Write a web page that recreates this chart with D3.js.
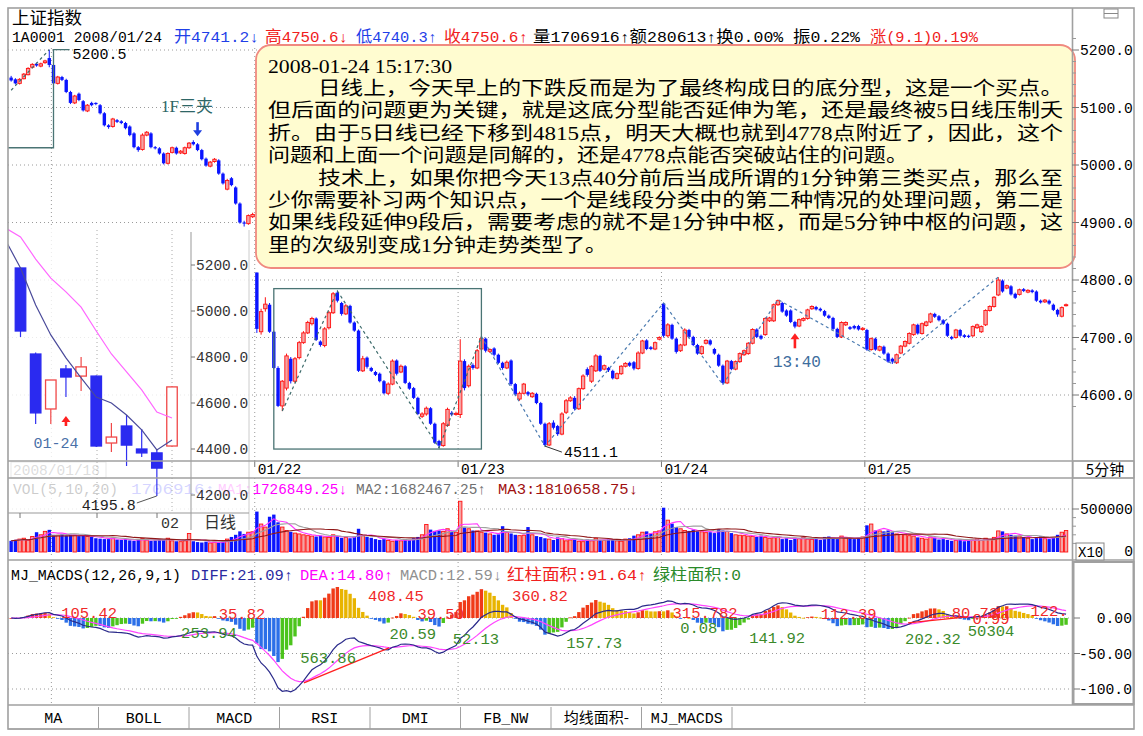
<!DOCTYPE html>
<html><head><meta charset="utf-8">
<script src="https://cdn.jsdelivr.net/npm/d3@7/dist/d3.min.js"></script>
<style>
html,body{margin:0;padding:0;background:#fff;}
svg{display:block;}
</style></head><body>
<svg id="chart" width="1143" height="736"></svg>
<script>
// ---------------- DATA ----------------
const dayLabels = ["01/18","01/21","01/22","01/23","01/24","01/25"];
const dayStart  = [0,10,58,106,154,202];
const priceTicks = [5200,5100,5000,4900,4800,4700,4600];

const open = [
5152,5149,5142,5150,5157,5170,5176,5172,5178,5186,
5174,5142,5153,5148,5127,5108,5124,5111,5094,5108,5108,5104,5090,5069,5067,5078,5076,5073,5067,5055,
5031,5027,5052,5055,5031,5029,5020,5003,5022,5030,5021,5020,5030,5040,5036,5026,5011,4998,5006,5008,
4985,4958,4977,4961,4933,4900,4898,4910,
4813,4710,4750,4757,4710,4647,4581,4612,4663,4624,4665,4691,4708,4724,4733,4693,4686,4717,4743,4778,
4760,4741,4755,4726,4712,4642,4665,4647,4640,4637,4624,4603,4619,4660,4640,4650,4621,4612,4595,4563,
4567,4577,4550,4520,4512,4547,4569,4566,
4566,4659,4616,4652,4647,4680,4698,4676,4681,4670,4656,4647,4660,4619,4593,4603,4605,4597,4602,4586,
4550,4513,4552,4546,4532,4570,4590,4595,4576,4611,4645,4624,4642,4668,4645,4647,4642,4629,4637,4650,
4656,4657,4646,4673,4695,4683,4680,4697,
4759,4703,4722,4698,4677,4687,4713,4701,4687,4672,4690,4695,4680,4670,4651,4621,4659,4645,4658,4670,
4672,4690,4714,4703,4705,4729,4729,4757,4760,4747,4747,4727,4720,4730,4733,4750,4753,4750,4746,4738,
4734,4715,4701,4722,4718,4720,4720,4714,
4713,4679,4698,4678,4684,4672,4663,4656,4673,4685,4690,4705,4722,4707,4721,4727,4741,4737,4730,4724,
4701,4700,4713,4704,4703,4703,4717,4710,4722,4747,4754,4774,4799,4786,4789,4776,4775,4784,4779,4782,
4780,4764,4762,4764,4757,4748,4737,4756];

const close = [
5147,5142,5149,5158,5168,5175,5173,5176,5181,5174,
5142,5153,5148,5127,5108,5120,5113,5095,5104,5104,5106,5090,5069,5066,5080,5075,5073,5064,5052,5031,
5026,5052,5057,5031,5029,5020,5003,5020,5030,5020,5024,5030,5038,5036,5026,5010,4999,5005,5010,4985,
4968,4973,4965,4933,4900,4898,4912,4914,
4715,4745,4758,4710,4647,4581,4624,4668,4624,4663,4691,4708,4726,4733,4696,4687,4715,4743,4776,4764,
4741,4755,4726,4712,4642,4663,4649,4642,4635,4624,4603,4619,4659,4637,4650,4621,4611,4595,4567,4567,
4577,4550,4517,4512,4550,4575,4566,4568,
4659,4612,4650,4647,4677,4698,4677,4679,4670,4656,4647,4657,4619,4601,4603,4619,4601,4603,4586,4550,
4513,4550,4543,4532,4567,4590,4595,4576,4611,4633,4635,4650,4668,4642,4651,4643,4629,4637,4650,4655,
4651,4646,4673,4694,4680,4680,4691,4700,
4703,4722,4698,4675,4687,4713,4701,4687,4672,4684,4695,4688,4672,4651,4621,4659,4645,4658,4672,4677,
4690,4714,4701,4698,4733,4734,4757,4764,4745,4738,4727,4719,4731,4733,4748,4754,4749,4747,4738,4734,
4715,4701,4726,4726,4715,4716,4714,4716,
4679,4698,4679,4684,4672,4658,4658,4670,4685,4693,4707,4722,4707,4724,4727,4741,4736,4730,4724,4703,
4698,4713,4703,4701,4701,4719,4722,4719,4747,4754,4770,4800,4780,4790,4775,4769,4783,4781,4782,4779,
4764,4761,4765,4759,4748,4740,4752,4757];

const high = [
5155,5151,5151,5160,5170,5177,5178,5178,5183,5200.5,
5176,5155,5155,5150,5129,5122,5126,5113,5106,5110,5109,5106,5092,5071,5082,5080,5078,5075,5069,5057,
5033,5055,5059,5057,5033,5031,5022,5022,5032,5032,5026,5032,5040,5043,5038,5028,5013,5007,5012,5010,
4987,4976,4979,4963,4935,4903,4914,4917,
4813,4750,4770,4760,4712,4650,4626,4672,4666,4666,4694,4711,4729,4736,4735,4695,4718,4746,4779,4781,
4762,4758,4757,4728,4714,4668,4667,4649,4642,4639,4626,4622,4662,4662,4653,4652,4623,4614,4597,4570,
4580,4579,4552,4522,4553,4578,4572,4571,
4697,4662,4653,4655,4680,4702,4700,4681,4683,4672,4658,4660,4662,4621,4606,4621,4607,4605,4604,4588,
4552,4553,4556,4548,4570,4593,4598,4598,4613,4636,4648,4652,4671,4670,4653,4649,4644,4639,4652,4657,
4658,4659,4676,4696,4697,4685,4693,4702,
4760,4725,4724,4700,4689,4716,4715,4703,4689,4686,4697,4697,4682,4672,4653,4661,4661,4660,4674,4679,
4692,4716,4716,4705,4735,4736,4759,4766,4762,4749,4749,4729,4733,4735,4750,4756,4755,4752,4748,4740,
4736,4717,4728,4728,4720,4722,4722,4718,
4715,4700,4700,4686,4686,4674,4665,4672,4687,4695,4709,4724,4724,4726,4729,4743,4743,4739,4732,4726,
4703,4715,4715,4706,4705,4721,4724,4721,4749,4756,4772,4805,4801,4792,4791,4778,4785,4786,4784,4784,
4782,4766,4767,4766,4759,4750,4754,4759];

const low = [
5145,5140,5140,5149,5156,5168,5171,5170,5176,5170,
5140,5140,5146,5125,5106,5106,5111,5093,5092,5102,5104,5088,5067,5063,5065,5073,5071,5062,5050,5029,
5023,5025,5050,5029,5027,5018,5001,5001,5020,5018,5019,5018,5028,5034,5024,5008,4997,4996,5004,4983,
4966,4956,4963,4931,4898,4893,4896,4908,
4708,4705,4745,4708,4645,4579,4572,4608,4620,4621,4662,4689,4706,4721,4694,4684,4683,4714,4741,4761,
4738,4739,4724,4710,4640,4640,4646,4640,4633,4622,4601,4600,4617,4634,4638,4619,4609,4593,4565,4560,
4564,4548,4515,4508,4510,4545,4563,4564,
4560,4608,4613,4644,4645,4677,4674,4673,4667,4654,4644,4645,4616,4598,4590,4601,4598,4595,4584,4548,
4511.1,4511,4540,4529,4530,4567,4588,4573,4574,4609,4632,4621,4640,4640,4643,4640,4627,4627,4635,4648,
4649,4643,4644,4671,4678,4678,4678,4695,
4700,4700,4696,4672,4675,4685,4699,4685,4670,4670,4688,4686,4670,4649,4618,4619,4643,4643,4656,4668,
4670,4688,4699,4696,4703,4727,4727,4755,4743,4736,4725,4716,4718,4728,4731,4748,4747,4745,4736,4732,
4713,4699,4699,4720,4713,4714,4712,4712,
4677,4677,4677,4676,4670,4656,4654,4654,4671,4683,4688,4703,4705,4705,4719,4725,4734,4728,4722,4701,
4696,4698,4701,4699,4699,4701,4715,4708,4720,4745,4752,4772,4778,4784,4773,4767,4773,4779,4777,4777,
4762,4759,4760,4757,4746,4736,4735,4754];

// volume in thousands
const volK = [
130,140,150,160,135,180,230,200,240,265,
200,195,205,190,200,195,185,190,180,175,160,155,150,150,160,145,140,150,135,130,
145,155,140,130,135,150,145,160,130,125,120,130,215,125,115,110,120,105,115,110,
120,150,175,200,240,210,230,235,
470,325,290,410,435,345,290,250,235,220,210,200,190,185,180,190,175,170,200,185,
165,170,160,180,270,190,175,165,150,140,150,135,125,140,130,150,140,160,175,200,
320,260,245,250,240,270,235,230,
590,285,270,250,245,230,225,210,200,205,300,230,215,200,190,195,290,200,185,175,
160,150,140,170,155,130,140,150,125,120,145,130,160,140,135,150,140,130,125,150,
160,190,200,230,240,215,235,245,
515,370,330,290,270,250,245,260,240,235,225,230,220,265,250,240,220,200,195,190,
185,180,175,190,170,160,165,175,150,160,140,165,155,170,150,145,160,140,175,180,
165,150,185,170,160,150,165,175,
310,325,250,245,240,250,230,210,205,200,190,185,170,160,150,175,165,145,150,140,
130,135,145,125,130,140,150,135,160,145,170,245,240,210,200,190,185,175,160,150,
165,180,155,150,170,200,230,250];

// daily inset (01/21 .. 02/04)
const dOpen  = [5187,4813,4574,4748,4717,4717,4426,4500,4400,4383,4413];
const dClose = [4913,4557,4700,4713,4757,4413,4452,4417,4383,4317,4670];
const dHigh  = [5190,4820,4700,4765,4800,4720,4513,4548,4487,4400,4672];
const dLow   = [4887,4509,4509,4626,4652,4409,4387,4326,4365,4195.8,4411];
const dMa5   = [5309,5187,5026,4896,4796,4709,4626,4600,4548,4483,4396,4439];   // first = previous day
const dMa10  = [5361,5322,5226,5143,5083,5017,4913,4813,4735,4657,4561,4535];
const dTicks = [5200,4800,5000,4600,4400,4200];

// zigzag segments (bar index, price)
const zigA = [[0,5130],[9,5200.5]];
const zigB = [[64,4572],[77,4781],[101,4508],[111,4702]];
const zigC = [[111,4702],[126,4511.1],[154,4760],[168,4618],[181,4766],[208,4654],[233,4805]];

// MACD area labels: text, bar position, value position, colour
const macdLabels = [
 ["105.42",18.4,8.5,"r"],["253.94",46.7,-20,"g"],["35.82",54.5,7,"r"],["563.86",74.8,-55,"g"],
 ["408.45",90.8,32,"r"],["20.59",94.8,-21,"g"],["39.50",101.4,7,"r"],["52.13",109.7,-28,"g"],
 ["360.82",124.8,32,"r"],["157.73",137.6,-34,"g"],["315.782",163.8,8.5,"r"],["0.08",162.3,-13,"g"],
 ["141.92",180.8,-27,"g"],["112.39",197.7,7,"r"],["202.32",217.6,-28,"g"],["80.73",227.5,8.5,"r"],
 ["0.99",231.3,0,"r"],["50304",231.3,-17,"g"],["122.",245,11,"r"]];
const macdRedLines = [[[69.1,-91.5],[89.2,-42]],[[211.7,-7],[225.6,1.5]]];

const noteTitle = "2008-01-24 15:17:30";
const noteLines = [
 "日线上，今天早上的下跌反而是为了最终构成日的底分型，这是一个买点。",
 "但后面的问题更为关键，就是这底分型能否延伸为笔，还是最终被5日线压制夭",
 "折。由于5日线已经下移到4815点，明天大概也就到4778点附近了，因此，这个",
 "问题和上面一个问题是同解的，还是4778点能否突破站住的问题。",
 "技术上，如果你把今天13点40分前后当成所谓的1分钟第三类买点，那么至",
 "少你需要补习两个知识点，一个是线段分类中的第二种情况的处理问题，第二是",
 "如果线段延伸9段后，需要考虑的就不是1分钟中枢，而是5分钟中枢的问题，这",
 "里的次级别变成1分钟走势类型了。"];
const noteSpan = [[318,1063],[268,1063],[268,1063],[268,908],[318,1063],[268,1063],[268,1063],[268,607]];

const headerSegs = [["1A0001 2008/01/24",12,162,"#000"],["开4741.2↓",174,259,"#1f3fe8"],["高4750.6↓",265,348,"#f02020"],
 ["低4740.3↑",356,437,"#1f3fe8"],["收4750.6↑",444,528,"#f02020"],["量1706916↑额280613↑换0.00% 振0.22%",533,860,"#000"],
 ["涨(9.1)0.19%",870,978,"#f02020"]];
const volLegend = [["VOL(5,10,20)",13,118,"#000"],["1706916↑",131,215,"#3030ff"],["MA1:1726849.25↓",218,347,"#ff00ff"],
 ["MA2:1682467.25↑",356,486,"#707070"],["MA3:1810658.75↓",498,638,"#a01010"]];
const macdLegend = [["MJ_MACDS(12,26,9,1)",11,181,"#000"],["DIFF:21.09↑",191,293,"#2a2aa0"],["DEA:14.80↑",300,393,"#ff00ff"],
 ["MACD:12.59↓",400,502,"#909090"],["红柱面积:91.64↑",507,647,"#f02020"],["绿柱面积:0",653,741,"#2a8a2a"]];

const tabs = ["MA","BOLL","MACD","RSI","DMI","FB_NW","均线面积-","MJ_MACDS"];

// ---------------- DRAW ----------------
const N = close.length;
const MONO = '"Liberation Mono","DejaVu Sans Mono","Noto Sans CJK SC",monospace';
const CJK = '"Noto Sans CJK SC","Liberation Sans",sans-serif';
const SERIF = '"Liberation Serif","Noto Sans CJK SC",serif';
const RED="#ff1010", REDF="#f5a3a3", BLUE="#0a14ff";

const svg = d3.select("#chart");
svg.append("rect").attr("width",1143).attr("height",736).attr("fill","#fff");

const x = d3.scaleBand().domain(d3.range(N)).range([8.6,1068.6]).padding(0.2);
const step = x.step(), bw = x.bandwidth();
const xf = v => x(0) + bw/2 + v*step;
const xb = i => x(i) - step*x.paddingInner()/2;
const yP = d3.scaleLinear().domain([4600,5200]).range([395,50]);
const yV = d3.scaleLinear().domain([0,500]).range([552,509]);
const yM = d3.scaleLinear().domain([-100,0]).range([689,618]);

function T(g,s,xx,yy,o={}){
  const t=g.append("text").attr("x",xx).attr("y",yy).text(s)
   .attr("font-family",o.ff||MONO).attr("font-size",o.fs||14.7).attr("fill",o.c||"#000");
  if(o.a) t.attr("text-anchor",o.a);
  if(o.len) t.attr("textLength",o.len).attr("lengthAdjust",o.adj||"spacingAndGlyphs");
  return t;
}
// mixed run text: CJK runs in CJK font, the rest monospaced
const CJKRE = /[\u3000-\u9fff\uff00-\uffef]/;
function M(g,s,xx,yy,o={}){
  const t=g.append("text").attr("x",xx).attr("y",yy).attr("fill",o.c||"#000");
  s.split(/([\u3000-\u9fff\uff00-\uffef]+)/).filter(p=>p).forEach(p=>{
    const cj=CJKRE.test(p);
    t.append("tspan").text(p).attr("font-family",cj?CJK:MONO).attr("font-size",cj?(o.cfs||15.5):(o.fs||14.7));
  });
  if(o.len) t.attr("textLength",o.len).attr("lengthAdjust","spacingAndGlyphs");
  return t;
}
const grid = svg.append("g");
priceTicks.forEach(t=>grid.append("line").attr("x1",8).attr("x2",1072).attr("y1",yP(t)).attr("y2",yP(t))
  .attr("stroke","#9a9a9a").attr("stroke-dasharray","1,3"));
grid.append("line").attr("x1",8).attr("x2",1072).attr("y1",yV(500)).attr("y2",yV(500)).attr("stroke","#9a9a9a").attr("stroke-dasharray","1,3");
[0,-50,-100].forEach(t=>grid.append("line").attr("x1",8).attr("x2",1072).attr("y1",yM(t)).attr("y2",yM(t)).attr("stroke","#9a9a9a").attr("stroke-dasharray","1,3"));
dayStart.slice(1).forEach(d=>{
  [[48,461],[478,558],[562,705]].forEach(([a,b])=>grid.append("line").attr("x1",xb(d)).attr("x2",xb(d)).attr("y1",a).attr("y2",b)
   .attr("stroke","#9a9a9a").attr("stroke-dasharray","1,3"));
});

// candles
const cg = svg.append("g");
d3.range(N).forEach(i=>{
  const up = close[i]>=open[i];
  const col = up?RED:BLUE;
  cg.append("line").attr("x1",xf(i)).attr("x2",xf(i)).attr("y1",yP(high[i])).attr("y2",yP(low[i])).attr("stroke",col);
  const top=yP(Math.max(open[i],close[i])), bot=yP(Math.min(open[i],close[i]));
  cg.append("rect").attr("x",x(i)).attr("width",bw).attr("y",top).attr("height",Math.max(1,bot-top))
    .attr("fill",up?REDF:BLUE).attr("stroke",up?RED:"none").attr("stroke-width",0.9);
});

// zigzag dashed
const lineP = d3.line().x(d=>xf(d[0])).y(d=>yP(d[1]));
[[zigA,"#3d6b6b"],[zigB,"#3d6b6b"],[zigC,"#4b7bb0"]].forEach(([pts,c])=>
  svg.append("path").attr("d",lineP(pts)).attr("fill","none").attr("stroke",c).attr("stroke-width",1.2).attr("stroke-dasharray","3,3"));
svg.append("rect").attr("x",xf(62)).attr("y",yP(4785)).attr("width",xf(111)-xf(62)).attr("height",yP(4506)-yP(4785))
  .attr("fill","none").attr("stroke","#4a7474").attr("stroke-width",1.3);
svg.append("path").attr("d",`M8,${yP(5030)}H${xf(10)}V${yP(5200.5)}H${xf(13.8)}`).attr("fill","none").attr("stroke","#4a7474").attr("stroke-width",1.3);
T(svg,"5200.5",xf(14.5),yP(5200.5)+9,{fs:15});
svg.append("line").attr("x1",xf(126)).attr("y1",yP(4511.1)).attr("x2",xf(130)).attr("y2",yP(4511.1)+6).attr("stroke","#333");
T(svg,"4511.1",xf(130.5),yP(4511.1)+11,{fs:15});
T(svg,"1F三夹",xf(41.5),yP(5043)-28,{ff:SERIF,fs:17,c:"#2e6666",a:"middle"});
function arrow(g,cx,y1,y2,col){
  const dir = y2>y1?1:-1;
  g.append("line").attr("x1",cx).attr("x2",cx).attr("y1",y1+dir*5).attr("y2",y2).attr("stroke",col).attr("stroke-width",2.6);
  g.append("path").attr("d",`M${cx},${y1}L${cx-4.5},${y1+dir*6}L${cx+4.5},${y1+dir*6}Z`).attr("fill",col);
}
arrow(svg,xf(44),yP(5038)-7,yP(5038)-21,"#1f3fe0");
arrow(svg,xf(185),yP(4716)+5,yP(4716)+20,"#ff2020");
T(svg,"13:40",xf(185)+2,yP(4716)+39,{fs:16,c:"#3d6d9d",a:"middle"});

// date axis labels
[2,3,4,5].forEach(d=>{
  T(svg,dayLabels[d],xb(dayStart[d])+3,474,{fs:14.5});
  svg.append("line").attr("x1",xb(dayStart[d])).attr("x2",xb(dayStart[d])).attr("y1",461).attr("y2",467).attr("stroke","#777");
});
svg.append("rect").attr("x",11).attr("y",462).attr("width",95).attr("height",16).attr("fill","#fff").attr("stroke","#888");
T(svg,"2008/01/18",13,475,{fs:14.5,c:"#555"});

// volume
const vg = svg.append("g");
d3.range(N).forEach(i=>{
  const up = close[i]>=open[i];
  vg.append("rect").attr("x",x(i)).attr("width",bw).attr("y",yV(volK[i])).attr("height",yV(0)-yV(volK[i]))
   .attr("fill",up?REDF:BLUE).attr("stroke",up?RED:"none").attr("stroke-width",0.9);
});
function ma(arr,n){return arr.map((v,i)=>d3.mean(arr.slice(Math.max(0,i-n+1),i+1)));}
const lineV = d3.line().x((d,i)=>xf(i)).y(d=>yV(d));
[[5,"#ff33ff"],[10,"#a0a0a0"],[20,"#901818"]].forEach(([n,c])=>
  vg.append("path").attr("d",lineV(ma(volK,n))).attr("fill","none").attr("stroke",c).attr("stroke-width",1.1));
volLegend.forEach(([s,a,b,c])=>M(svg,s,a,494,{c:c,len:b-a}));

// MACD (standard 12/26/9 from closes)
function ema(arr,n){const k=2/(n+1);const o=[];arr.forEach((v,i)=>o.push(i?o[i-1]+k*(v-o[i-1]):v));return o;}
const e12=ema(close,12), e26=ema(close,26);
const diff=e12.map((v,i)=>v-e26[i]);
const dea=ema(diff,9);
const hist=diff.map((v,i)=>2*(v-dea[i]));
const mg = svg.append("g");
hist.forEach((m,i)=>{
  const p = i?hist[i-1]:0;
  let c;
  if(m>=0) c = m>=p?"#f03a18":"#e8b400"; else c = m<=p?"#2b6fe8":"#4cc41c";
  const y0=yM(0), y1=yM(m);
  mg.append("rect").attr("x",x(i)).attr("width",bw).attr("y",Math.min(y0,y1)).attr("height",Math.max(0.8,Math.abs(y1-y0))).attr("fill",c);
});
const lineM = d3.line().x((d,i)=>xf(i)).y(d=>yM(d));
mg.append("path").attr("d",lineM(dea)).attr("fill","none").attr("stroke","#ff44ff").attr("stroke-width",1.2);
mg.append("path").attr("d",lineM(diff)).attr("fill","none").attr("stroke","#2a2a8a").attr("stroke-width",1.2);
macdRedLines.forEach(pts=>mg.append("path").attr("d",d3.line().x(d=>xf(d[0])).y(d=>yM(d[1]))(pts)).attr("stroke","#ff2020").attr("stroke-width",1.3).attr("fill","none"));
macdLabels.forEach(([s,b,v,c])=>T(mg,s,xf(b),yM(v)+6,{fs:15.5,c:c==="r"?"#f02828":"#3a8a2a",a:"middle"}));
macdLegend.forEach(([s,a,b,c])=>M(svg,s,a,580,{c:c,len:b-a}));

// ---------------- INSET (daily) ----------------
const ins = svg.append("g");
ins.append("rect").attr("x",8).attr("y",228).attr("width",241).attr("height",302).attr("fill","#fff").attr("opacity",0.8);
const xi = d3.scaleLinear().domain([0,10]).range([20.5,172]);
const yi = d3.scaleLinear().domain([4200,5200]).range([495,265]);
[97,172].forEach(v=>ins.append("line").attr("x1",v).attr("x2",v).attr("y1",230).attr("y2",513).attr("stroke","#aaa").attr("stroke-dasharray","1,3"));
dOpen.forEach((o,i)=>{
  const c=dClose[i], up=c>=o, cx=xi(i), w=10.5;
  ins.append("line").attr("x1",cx).attr("x2",cx).attr("y1",yi(dHigh[i])).attr("y2",yi(dLow[i])).attr("stroke",up?"#f04848":"#3030f0").attr("stroke-width",1.2);
  const t=yi(Math.max(o,c)), b=yi(Math.min(o,c));
  ins.append("rect").attr("x",cx-w/2).attr("width",w).attr("y",t).attr("height",Math.max(1,b-t))
    .attr("fill",up?"#fff":"#2a2af0").attr("stroke",up?"#f04848":"#2a2af0").attr("stroke-width",1.3);
});
const lineI = d3.line().x((d,i)=>xi(i-1)).y(d=>yi(d));
svg.append("clipPath").attr("id","ci").append("rect").attr("x",8).attr("y",228).attr("width",183).attr("height",285);
ins.append("path").attr("d",lineI(dMa10)).attr("fill","none").attr("stroke","#ff66ff").attr("stroke-width",1.2).attr("clip-path","url(#ci)");
ins.append("path").attr("d",lineI(dMa5)).attr("fill","none").attr("stroke","#4a4a9a").attr("stroke-width",1.2).attr("clip-path","url(#ci)");
ins.append("line").attr("x1",191).attr("x2",191).attr("y1",232).attr("y2",530).attr("stroke","#999");
ins.append("line").attr("x1",249).attr("x2",249).attr("y1",230).attr("y2",530).attr("stroke","#ccc");
ins.append("line").attr("x1",8).attr("x2",249).attr("y1",513).attr("y2",513).attr("stroke","#999");
dTicks.forEach(t=>{
  T(ins,t.toFixed(1),196,yi(t)+5,{fs:14.5,c:"#333"});
  ins.append("line").attr("x1",191).attr("x2",195).attr("y1",yi(t)).attr("y2",yi(t)).attr("stroke","#777");
});
[20,97,157].forEach(v=>ins.append("line").attr("x1",v).attr("x2",v).attr("y1",513).attr("y2",518).attr("stroke","#777"));
T(ins,"02",161,528,{fs:15,c:"#333"});
T(ins,"日线",204,528,{ff:CJK,fs:16,c:"#333"});
T(ins,"01-24",56,448,{fs:15,c:"#4a70a8",a:"middle"});
arrow(ins,xi(3),yi(dLow[3])+19,yi(dLow[3])+29,"#ff2020");
ins.append("path").attr("d",`M${xi(9)},${yi(dLow[9])}L${xi(9)-20},${yi(dLow[9])+7}`).attr("stroke","#555").attr("fill","none");
T(ins,"4195.8",xi(9)-21,yi(dLow[9])+14,{fs:15,c:"#222",a:"end"});

// ---------------- NOTE BOX ----------------
const nb = svg.append("g");
nb.append("rect").attr("x",256).attr("y",45).attr("width",819).attr("height",223).attr("rx",15)
  .attr("fill","#fffcd0").attr("stroke","#f08a80").attr("stroke-width",1.8);
T(nb,noteTitle,268,73,{ff:SERIF,fs:18,len:184});
noteLines.forEach((s,k)=>T(nb,s,noteSpan[k][0],95+k*22.4,{ff:SERIF,fs:19,len:noteSpan[k][1]-noteSpan[k][0]}));

// ---------------- HEADER ----------------
T(svg,"上证指数",12,24,{ff:CJK,fs:17,len:70});
headerSegs.forEach(([s,a,b,c])=>M(svg,s,a,42,{fs:14.7,cfs:15.5,c:c,len:b-a}));
svg.append("rect").attr("x",1104).attr("y",9).attr("width",14).attr("height",9).attr("fill","none").attr("stroke","#888");
svg.append("line").attr("x1",1104).attr("x2",1118).attr("y1",13.5).attr("y2",13.5).attr("stroke","#888");

// ---------------- AXES / FRAMES ----------------
const fr = svg.append("g").attr("stroke","#a0a0a0").attr("fill","none");
fr.append("rect").attr("x",8).attr("y",8).attr("width",1126).attr("height",721).attr("stroke-width",1.6);
fr.append("line").attr("x1",1072.5).attr("x2",1072.5).attr("y1",8).attr("y2",705).attr("stroke-width",1.6);
[461,478,560,705].forEach(v=>fr.append("line").attr("x1",8).attr("x2",1134).attr("y1",v).attr("y2",v).attr("stroke-width",1.4));
fr.append("rect").attr("x",1073.5).attr("y",562).attr("width",60).attr("height",142).attr("stroke-width",2);
fr.append("rect").attr("x",1073).attr("y",461).attr("width",61).attr("height",17);
T(svg,"5分钟",1105,475,{ff:CJK,fs:15,a:"middle"});
priceTicks.forEach(t=>{
  T(svg,t.toFixed(1),1080,yP(t)+5,{fs:14.7});
  svg.append("line").attr("x1",1072).attr("x2",1079).attr("y1",yP(t)).attr("y2",yP(t)).attr("stroke","#777");
});
d3.range(4580,5221,20).filter(v=>v%100).forEach(t=>svg.append("line").attr("x1",1072).attr("x2",1076).attr("y1",yP(t)).attr("y2",yP(t)).attr("stroke","#999"));
T(svg,"500000",1080,yV(500)+5,{fs:14.7});
svg.append("line").attr("x1",1072).attr("x2",1079).attr("y1",yV(500)).attr("y2",yV(500)).attr("stroke","#777");
[100,200,300,400].forEach(t=>svg.append("line").attr("x1",1072).attr("x2",1076).attr("y1",yV(t)).attr("y2",yV(t)).attr("stroke","#999"));
T(svg,"0",1133,yV(0)+4,{fs:14.7,a:"end"});
svg.append("rect").attr("x",1076).attr("y",543).attr("width",28).attr("height",17).attr("fill","#fff").attr("stroke","#888");
T(svg,"X10",1078,557,{fs:14});
[[0,"0.00"],[-50,"-50.00"],[-100,"-100.0"]].forEach(([v,s])=>{
  T(svg,s,1132,yM(v)+5,{fs:14.7,a:"end"});
  svg.append("line").attr("x1",1074).attr("x2",1080).attr("y1",yM(v)).attr("y2",yM(v)).attr("stroke","#777");
});

// tabs
const tg = svg.append("g");
const tabW = 90.5;
tabs.forEach((s,k)=>{
  const x0 = 8 + k*tabW;
  tg.append("line").attr("x1",x0+tabW).attr("x2",x0+tabW).attr("y1",707).attr("y2",729).attr("stroke","#a0a0a0");
  T(tg,s,x0+tabW/2,723,{fs:15,a:"middle",ff:CJKRE.test(s)?CJK:MONO});
});
tg.append("line").attr("x1",8).attr("x2",1134).attr("y1",729).attr("y2",729).attr("stroke","#a0a0a0");
</script>
</body></html>
